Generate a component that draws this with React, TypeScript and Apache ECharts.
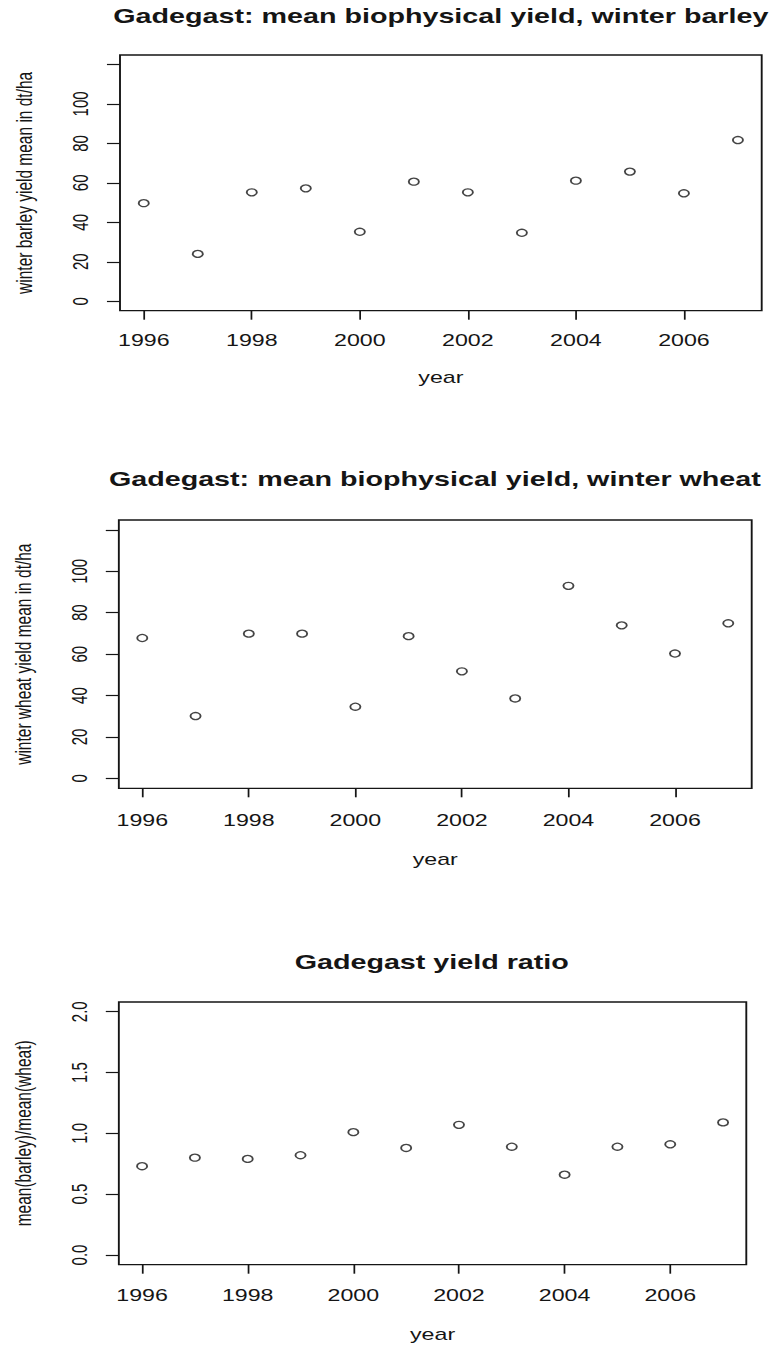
import React, { useEffect, useRef } from "react";
import * as echarts from "echarts";

// Yearly means for Gadegast
const years = [1996, 1997, 1998, 1999, 2000, 2001, 2002, 2003, 2004, 2005, 2006, 2007];
const barleyYield = [49.7, 24.0, 55.2, 57.2, 35.2, 60.6, 55.2, 34.7, 61.1, 65.7, 54.7, 81.7];
const wheatYield = [67.8, 30.1, 69.9, 69.9, 34.6, 68.7, 51.7, 38.6, 93.0, 73.9, 60.3, 74.9];
const yieldRatio = [0.73, 0.8, 0.79, 0.82, 1.01, 0.88, 1.07, 0.89, 0.66, 0.89, 0.91, 1.09];

// Axis ticks
const yearTicks = [1996, 1998, 2000, 2002, 2004, 2006];
const yieldTicks = [0, 20, 40, 60, 80, 100, 120];
const yieldLabelled = [0, 20, 40, 60, 80, 100];
const ratioTicks = [0, 0.5, 1.0, 1.5, 2.0];

const titles = [
  "Gadegast: mean biophysical yield, winter barley",
  "Gadegast: mean biophysical yield, winter wheat",
  "Gadegast yield ratio",
];
const yNames = [
  "winter barley yield mean in dt/ha",
  "winter wheat yield mean in dt/ha",
  "mean(barley)/mean(wheat)",
];

// The drawing is laid out on a narrower canvas and stretched sideways.
const PAGE_W = 771;
const PAGE_H = 1347;
const CHART_W = 532;
const STRETCH = PAGE_W / CHART_W;
const cx = (pageX: number) => pageX / STRETCH;

const FONT = "'Liberation Sans', Arial, sans-serif";
const INK = "#151515";

// panel boxes in page pixels: left, right, top, bottom
const boxes = [
  { l: 120, r: 761.7, t: 55, b: 310.7 },
  { l: 118, r: 751.7, t: 520, b: 788.3 },
  { l: 117.2, r: 746.3, t: 1002, b: 1264.7 },
];

export default function App() {
  const ref = useRef<HTMLDivElement>(null);

  useEffect(() => {
    if (!ref.current) return;
    const chart = echarts.init(ref.current, null, { renderer: "svg" });

    const grids = boxes.map((b) => ({
      left: cx(b.l),
      width: cx(b.r) - cx(b.l),
      top: b.t,
      height: b.b - b.t,
      show: true,
      borderColor: INK,
      borderWidth: 1.3,
      backgroundColor: "transparent",
      containLabel: false,
    }));

    const xAxes = boxes.map((_, i) => ({
      type: "value",
      gridIndex: i,
      min: 1995.56,
      max: 2007.44,
      name: "year",
      nameLocation: "middle",
      nameGap: [59, 63, 62][i],
      nameTextStyle: { fontFamily: FONT, fontSize: 16, color: INK },
      axisLine: { show: false, onZero: false },
      splitLine: { show: false },
      axisTick: {
        show: true,
        length: 9,
        customValues: yearTicks,
        lineStyle: { color: INK, width: 1.2 },
      },
      axisLabel: {
        customValues: yearTicks,
        margin: [22, 24, 23][i],
        fontFamily: FONT,
        fontSize: 16,
        color: INK,
        formatter: (v: number) => String(v),
      },
    }));

    const yTickSets = [yieldTicks, yieldTicks, ratioTicks];
    const yLabelSets = [yieldLabelled, yieldLabelled, ratioTicks];

    const yAxes = boxes.map((_, i) => {
      const isRatio = i === 2;
      return {
        type: "value",
        gridIndex: i,
        min: isRatio ? -0.08 : -4.8,
        max: isRatio ? 2.08 : 124.8,
        name: yNames[i],
        nameLocation: "middle",
        nameRotate: 90,
        nameGap: 58,
        nameTextStyle: { fontFamily: FONT, fontSize: 15.5, color: INK },
        axisLine: { show: false, onZero: false },
        splitLine: { show: false },
        axisTick: {
          show: true,
          length: 9,
          customValues: yTickSets[i],
          lineStyle: { color: INK, width: 1.2 },
        },
        // tick labels are drawn rotated below
        axisLabel: { show: false },
      };
    });

    const seriesData = [barleyYield, wheatYield, yieldRatio];
    const series = seriesData.map((vals, i) => ({
      type: "scatter",
      xAxisIndex: i,
      yAxisIndex: i,
      symbol: "circle",
      symbolSize: 7,
      itemStyle: { color: "rgba(255,255,255,0)", borderColor: INK, borderWidth: 1.3 },
      data: years.map((y, k) => [y, vals[k]]),
    }));

    const titleTops = [6, 469, 952];
    const titleTexts = boxes.map((b, i) => ({
      id: "title" + i,
      type: "text",
      x: cx((b.l + b.r) / 2),
      y: titleTops[i],
      style: {
        text: titles[i],
        align: "center",
        verticalAlign: "top",
        fontFamily: FONT,
        fontSize: 19.8,
        fontWeight: "bold",
        fill: INK,
      },
    }));

    chart.setOption({
      animation: false,
      backgroundColor: "#ffffff",
      grid: grids,
      xAxis: xAxes,
      yAxis: yAxes,
      series,
      graphic: titleTexts,
    } as any);

    // y tick labels, read bottom-to-top, placed with the axes' own scales
    const yLabels: any[] = [];
    yLabelSets.forEach((vals, i) => {
      const isRatio = i === 2;
      const leftEdge = chart.convertToPixel({ xAxisIndex: i } as any, 1995.56) as number;
      vals.forEach((v, k) => {
        const py = chart.convertToPixel({ yAxisIndex: i } as any, v) as number;
        yLabels.push({
          id: `ylab${i}_${k}`,
          type: "text",
          x: leftEdge - 19.5,
          y: py,
          rotation: Math.PI / 2,
          style: {
            text: isRatio ? v.toFixed(1) : String(v),
            align: "center",
            verticalAlign: "bottom",
            fontFamily: FONT,
            fontSize: 15,
            fill: INK,
          },
        });
      });
    });

    chart.setOption({ graphic: [...titleTexts, ...yLabels] } as any);

    return () => chart.dispose();
  }, []);

  return (
    <div
      style={{
        position: "absolute",
        left: 0,
        top: 0,
        width: PAGE_W,
        height: PAGE_H,
        overflow: "hidden",
        background: "#fff",
      }}
    >
      <div
        ref={ref}
        style={{
          width: CHART_W,
          height: PAGE_H,
          transform: `scaleX(${STRETCH})`,
          transformOrigin: "0 0",
        }}
      />
    </div>
  );
}
